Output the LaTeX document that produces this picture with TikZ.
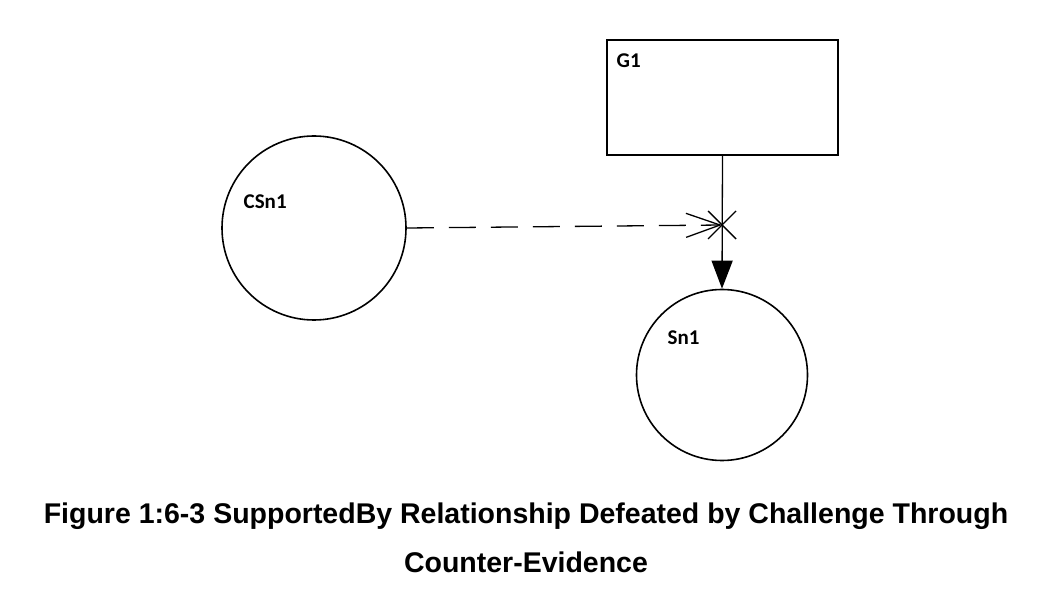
\documentclass[tikz,border=0pt]{standalone}
\usepackage{fontspec}
\setmainfont{Liberation Sans}
\newfontfamily\labelfont{Carlito}
\usetikzlibrary{arrows.meta,calc}
\begin{document}
\begin{tikzpicture}[x=1pt,y=-1pt,
  line width=1.4pt,
  goalbox/.style={draw, line width=1.6pt, minimum width=231pt, minimum height=115pt, inner sep=0pt},
  solcircle/.style={draw, line width=1.6pt, circle, inner sep=0pt},
  nlabel/.style={font=\labelfont\bfseries\fontsize{21}{24}\selectfont, anchor=base west, inner sep=0pt},
  caption/.style={font=\bfseries\fontsize{28.5}{32}\selectfont, anchor=base, inner sep=0pt}]
\useasboundingbox (0,0) rectangle (1058,593);
\node[goalbox] (G1) at (722.5,97.5) {};
\node[nlabel] (G1l) at (616,68) {G1};
\node[solcircle, minimum size=184pt] (CSn1) at (314,228) {};
\node[nlabel] (CSn1l) at (243,209) {CSn1};
\node[solcircle, minimum size=171pt] (Sn1) at (722,375) {};
\node[nlabel] (Sn1l) at (667,345) {Sn1};
\coordinate (X) at (722,225);
\draw[-{Triangle[length=28pt,width=21pt]}, line width=1.3pt] (G1.south) -- (Sn1.north);
\draw[dash pattern=on 27pt off 15pt, line width=1.3pt, -{Straight Barb[length=34pt,width=24pt,line width=1.3pt]}] (CSn1.east) -- (X);
\draw[line width=1.4pt] ($(X)+(-14,-14)$) -- ($(X)+(14,14)$);
\draw[line width=1.4pt] ($(X)+(-14,14)$) -- ($(X)+(14,-14)$);
\node[caption] (cap1) at (526,523) {Figure 1:6-3 SupportedBy Relationship Defeated by Challenge Through};
\node[caption] (cap2) at (526,572) {Counter-Evidence};
\end{tikzpicture}
\end{document}
